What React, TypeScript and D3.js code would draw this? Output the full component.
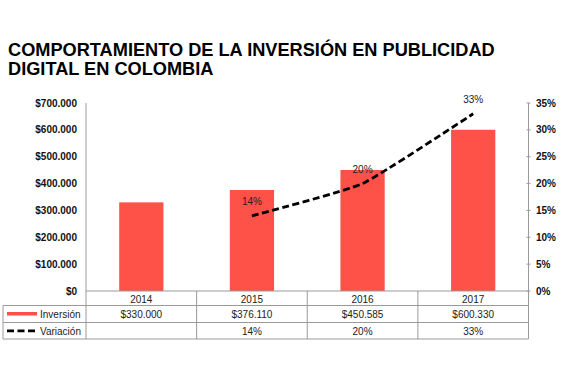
import React from "react";
import * as d3 from "d3";

const years = ["2014", "2015", "2016", "2017"];
const inversion = [330000, 376110, 450585, 600330];
const variacion: (number | null)[] = [null, 0.14, 0.2, 0.33];
const leftTicks = [0, 100000, 200000, 300000, 400000, 500000, 600000, 700000];
const rightTicks = [0, 0.05, 0.1, 0.15, 0.2, 0.25, 0.3, 0.35];
const titleLines = ["COMPORTAMIENTO DE LA INVERSIÓN EN PUBLICIDAD", "DIGITAL EN COLOMBIA"];
const seriesNames = ["Inversión", "Variación"];

const W = 570;
const H = 380;
const left = 86;
const right = 528.5;
const top = 103;
const bottom = 291;
const rowLines = [305.5, 322.5, 339];
const tableLeft = 3;

const BAR = "#FE5147";
const FONT = "'Liberation Sans', Arial, Helvetica, sans-serif";

const fmtMoney = (v: number) => "$" + d3.format(",")(v).replace(/,/g, ".");
const fmtPct = (v: number) => Math.round(v * 100) + "%";

export default function App() {
  const x = d3.scaleBand<string>().domain(years).range([left, right]).paddingInner(0.6).paddingOuter(0.3);
  const yL = d3.scaleLinear().domain([0, 700000]).range([bottom, top]);
  const yR = d3.scaleLinear().domain([0, 0.35]).range([bottom, top]);
  const step = x.step();
  const colEdge = (i: number) => left + i * step;

  const linePts = years
    .map((yr, i) => ({ yr, v: variacion[i] }))
    .filter((d) => d.v !== null) as { yr: string; v: number }[];
  const line = d3
    .line<{ yr: string; v: number }>()
    .x((d) => (x(d.yr) as number) + x.bandwidth() / 2)
    .y((d) => yR(d.v))
    .curve(d3.curveCardinal.tension(0.55));

  const grid = "#9a9a9a";

  return (
    <svg width={W} height={H} style={{ position: "absolute", left: 0, top: 0, background: "#fff" }} fontFamily={FONT}>
      <rect width={W} height={H} fill="#fff" />
      {titleLines.map((t, i) => (
        <text key={t} x={8} y={56 + i * 18.5} fontSize={18.2} fontWeight="bold" fill="#000">
          {t}
        </text>
      ))}

      {/* bars */}
      {years.map((yr, i) => (
        <rect
          key={yr}
          x={x(yr)}
          y={yL(inversion[i])}
          width={x.bandwidth()}
          height={bottom - yL(inversion[i])}
          fill={BAR}
        />
      ))}

      {/* axes lines */}
      <line x1={left} x2={left} y1={top} y2={rowLines[2]} stroke={grid} strokeWidth={1} />
      <line x1={right} x2={right} y1={top} y2={rowLines[2]} stroke={grid} strokeWidth={1} />
      <line x1={left} x2={right} y1={bottom} y2={bottom} stroke={grid} strokeWidth={1} />
      {rightTicks.map((t) => (
        <line key={"rt" + t} x1={right - 2} x2={right + 2} y1={yR(t)} y2={yR(t)} stroke={grid} strokeWidth={1} />
      ))}
      {leftTicks.map((t) => (
        <text key={"l" + t} x={77} y={yL(t) + 3.5} fontSize={10} fontWeight="bold" textAnchor="end" fill="#111">
          {fmtMoney(t)}
        </text>
      ))}
      {rightTicks.map((t) => (
        <text key={"r" + t} x={536} y={yR(t) + 3.5} fontSize={10} fontWeight="bold" fill="#111">
          {fmtPct(t)}
        </text>
      ))}

      {/* line */}
      <path d={line(linePts) || ""} fill="none" stroke="#000" strokeWidth={2.8} strokeDasharray="7,3.5" />
      {linePts.map((d) => (
        <text
          key={"lab" + d.yr}
          x={(x(d.yr) as number) + x.bandwidth() / 2}
          y={yR(d.v) - 11}
          fontSize={10}
          textAnchor="middle"
          fill="#222"
        >
          {fmtPct(d.v)}
        </text>
      ))}

      {/* table */}
      {rowLines.map((ry) => (
        <line key={"row" + ry} x1={tableLeft} x2={right} y1={ry} y2={ry} stroke={grid} strokeWidth={1} />
      ))}
      <line x1={tableLeft} x2={tableLeft} y1={rowLines[0]} y2={rowLines[2]} stroke={grid} strokeWidth={1} />
      {years.slice(1).map((yr, i) => (
        <line key={"col" + yr} x1={colEdge(i + 1)} x2={colEdge(i + 1)} y1={bottom} y2={rowLines[2]} stroke={grid} strokeWidth={1} />
      ))}
      {years.map((yr, i) => {
        const cx = (x(yr) as number) + x.bandwidth() / 2;
        const v = variacion[i];
        return (
          <g key={"cell" + yr} fontSize={10} fill="#222" textAnchor="middle">
            <text x={cx} y={bottom + 11.5}>{yr}</text>
            <text x={cx} y={rowLines[0] + 12.5}>{fmtMoney(inversion[i])}</text>
            {v !== null && <text x={cx} y={rowLines[1] + 12}>{fmtPct(v)}</text>}
          </g>
        );
      })}
      {/* legend */}
      <rect x={7} y={rowLines[0] + 6.5} width={30} height={3.5} fill={BAR} />
      <line x1={7} x2={37} y1={rowLines[1] + 8.3} y2={rowLines[1] + 8.3} stroke="#000" strokeWidth={2.8} strokeDasharray="7,3.5" />
      <text x={40} y={rowLines[0] + 12.5} fontSize={10} fill="#222">{seriesNames[0]}</text>
      <text x={40} y={rowLines[1] + 12} fontSize={10} fill="#222">{seriesNames[1]}</text>
    </svg>
  );
}
